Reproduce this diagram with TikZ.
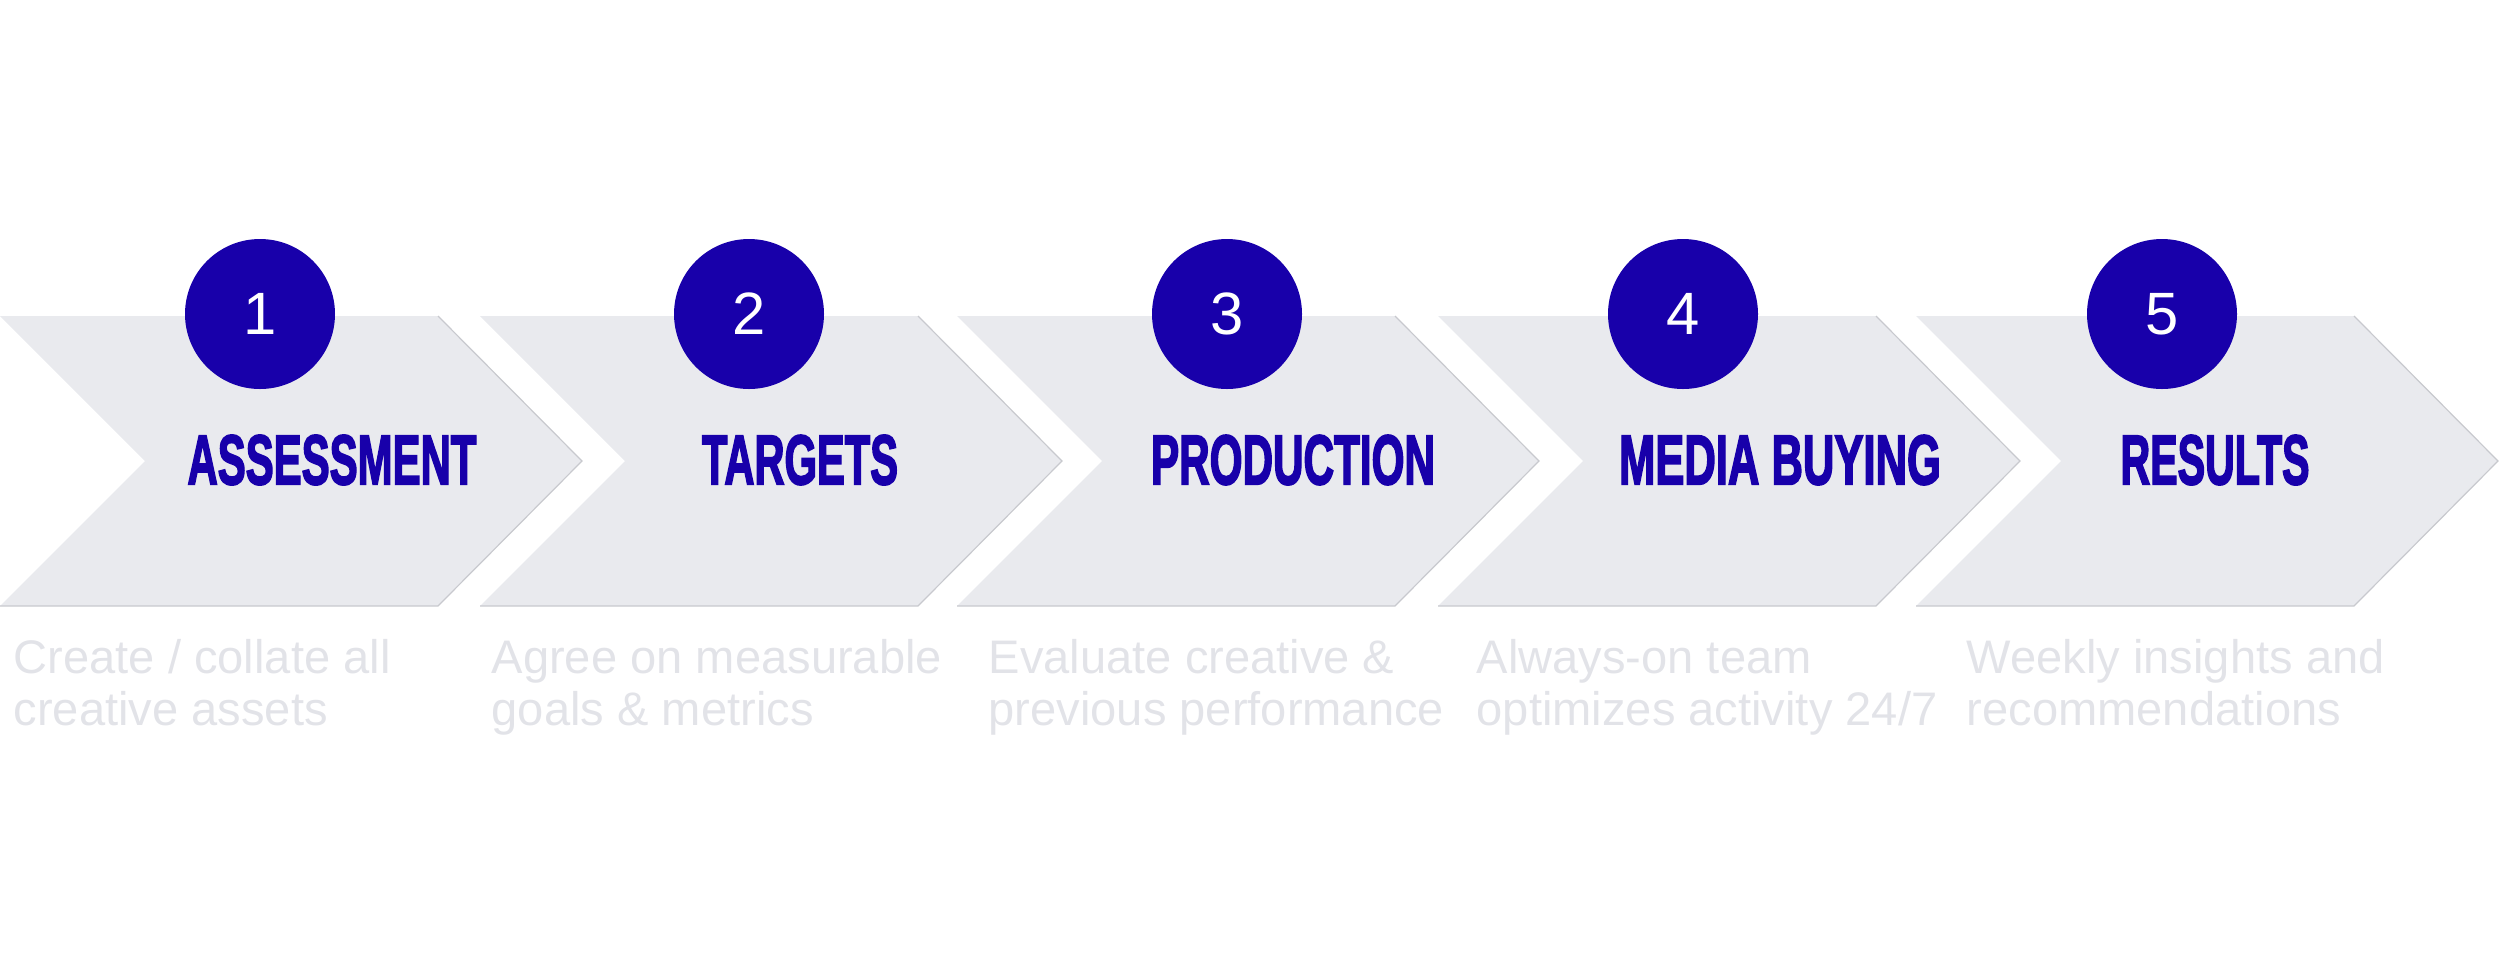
\documentclass[tikz,border=0pt]{standalone}
\usepackage{fontspec}
\setmainfont{Liberation Sans}
\newfontfamily\titlefont{Liberation Sans Bold}[FakeBold=3]
\usepackage{graphicx}
\usetikzlibrary{calc, positioning}
\definecolor{stepblue}{RGB}{24,0,170}
\definecolor{chevgrey}{RGB}{233,234,238}
\definecolor{chevedge}{RGB}{200,201,206}
\definecolor{notegrey}{RGB}{226,227,232}

\tikzset{
  chevron/.style={fill=chevgrey},
  chevline/.style={draw=chevedge, line width=0.12mm},
  numdot/.style={circle, fill=stepblue, text=white, inner sep=0pt, minimum size=15mm,
    font=\fontsize{17}{17}\selectfont},
  steptitle/.style={inner sep=0pt, text=stepblue, font=\titlefont},
  stepnote/.style={inner sep=0pt, anchor=base west, align=left, text=notegrey,
    font=\fontsize{13.4}{14.8}\selectfont}
}

\begin{document}
\begin{tikzpicture}[x=0.1mm, y=-0.1mm]
    \useasboundingbox (0,0) rectangle (2500,977);
    % chevrons
    \foreach \l in {0,480,957,1438,1916} {
        \fill[chevron] (\l,316) -- ++(438,0) -- ++(144,145) -- ++(-144,145)
            -- ++(-438,0) -- ++(145,-145) -- cycle;
        \draw[chevline] (\l+438,316) -- ++(144,145) -- ++(-144,145) -- ++(-438,0);
    }
    % numbered dots
    \foreach \x [count=\i] in {260,749,1227,1683,2162}
        \node[numdot] (n\i) at (\x,314) {\i};
    % titles
    \foreach \x/\w/\t [count=\i] in {332/28.9/ASSESSMENT, 800/19.6/TARGETS,
        1293/28.4/PRODUCTION, 1780/32.2/MEDIA BUYING, 2215/18.9/RESULTS}
        \node[steptitle] (t\i) at (\x,460) {\resizebox{\w mm}{4.9mm}{\t}};
    % notes (base = second line)
    \node[stepnote] (d1) at (13,725) {Create / collate all\\creative assets};
    \node[stepnote] (d2) at (491,725) {Agree on measurable\\goals \& metrics};
    \node[stepnote] (d3) at (988,725) {Evaluate creative \&\\previous performance};
    \node[stepnote] (d4) at (1476,725) {Always-on team\\optimizes activity 24/7};
    \node[stepnote] (d5) at (1966,725) {Weekly insights and\\recommendations};
\end{tikzpicture}
\end{document}
